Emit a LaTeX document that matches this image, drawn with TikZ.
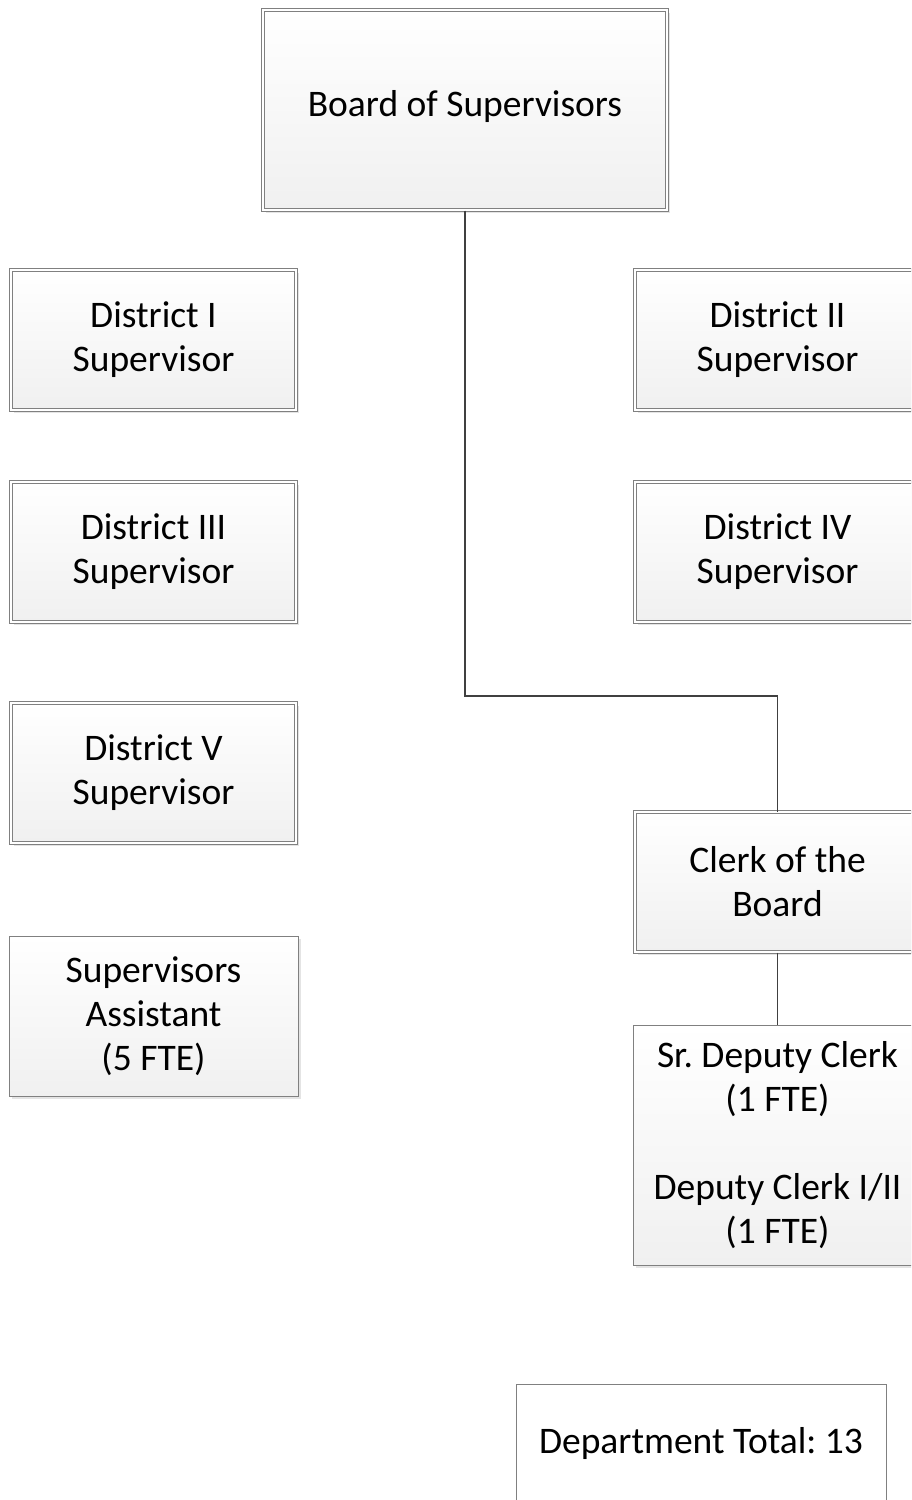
\documentclass[tikz,border=0pt]{standalone}
\usepackage{fontspec}
\setmainfont{Carlito}
\usetikzlibrary{shadows}
\definecolor{boxline}{RGB}{128,128,128}
\definecolor{boxbot}{RGB}{240,240,240}
\definecolor{conn}{RGB}{64,64,64}
\frenchspacing
\begin{document}
\begin{tikzpicture}[x=1pt,y=-1pt,
  every node/.style={font=\frenchspacing\fontsize{37.5}{44}\selectfont, align=center, inner sep=0pt},
  basebox/.style={rectangle, top color=white, bottom color=boxbot, draw=boxline,
     drop shadow={shadow xshift=3pt, shadow yshift=-3pt, fill=black!15, opacity=0.7}},
  dblbox/.style={basebox, line width=1pt, double=white, double distance=2pt,
     minimum width=285pt, minimum height=140pt},
  sglbox/.style={basebox, line width=1pt, minimum width=289pt},
  totbox/.style={rectangle, fill=white, draw=boxline, line width=1pt},
  link/.style={draw=conn, line width=1.6pt}
]
\useasboundingbox (0,0) rectangle (911,1500);
\clip (0,0) rectangle (911,1500);

\node[dblbox, minimum width=404pt, minimum height=200pt] (board) at (465,110) {\raisebox{4pt}[\height][\depth]{Board of Supervisors}};

\node[dblbox] (d1) at (153.5,340) {District I\\Supervisor};
\node[dblbox] (d2) at (777.5,340) {District II\\Supervisor};
\node[dblbox] (d3) at (153.5,552) {District III\\Supervisor};
\node[dblbox] (d4) at (777.5,552) {District IV\\Supervisor};
\node[dblbox] (d5) at (153.5,772.5) {District V\\Supervisor};
\node[dblbox] (clerk) at (777.5,882) {Clerk of the\\Board};

\node[sglbox, minimum height=160pt] (asst) at (153.5,1016) {Supervisors\\Assistant\\(5 FTE)};
\node[sglbox, minimum height=240pt] (deputy) at (777.5,1145) {Sr. Deputy Clerk\\(1 FTE)\\[44pt]Deputy Clerk I/II\\(1 FTE)};

\node[totbox, minimum width=370pt, minimum height=118pt] (total) at (701,1443) {Department Total: 13};

\coordinate (elbow) at (777.5,696);
\draw[link] (board.south) |- (elbow) -- (clerk.north);
\draw[link] (clerk.south) -- (deputy.north);
\end{tikzpicture}
\end{document}
